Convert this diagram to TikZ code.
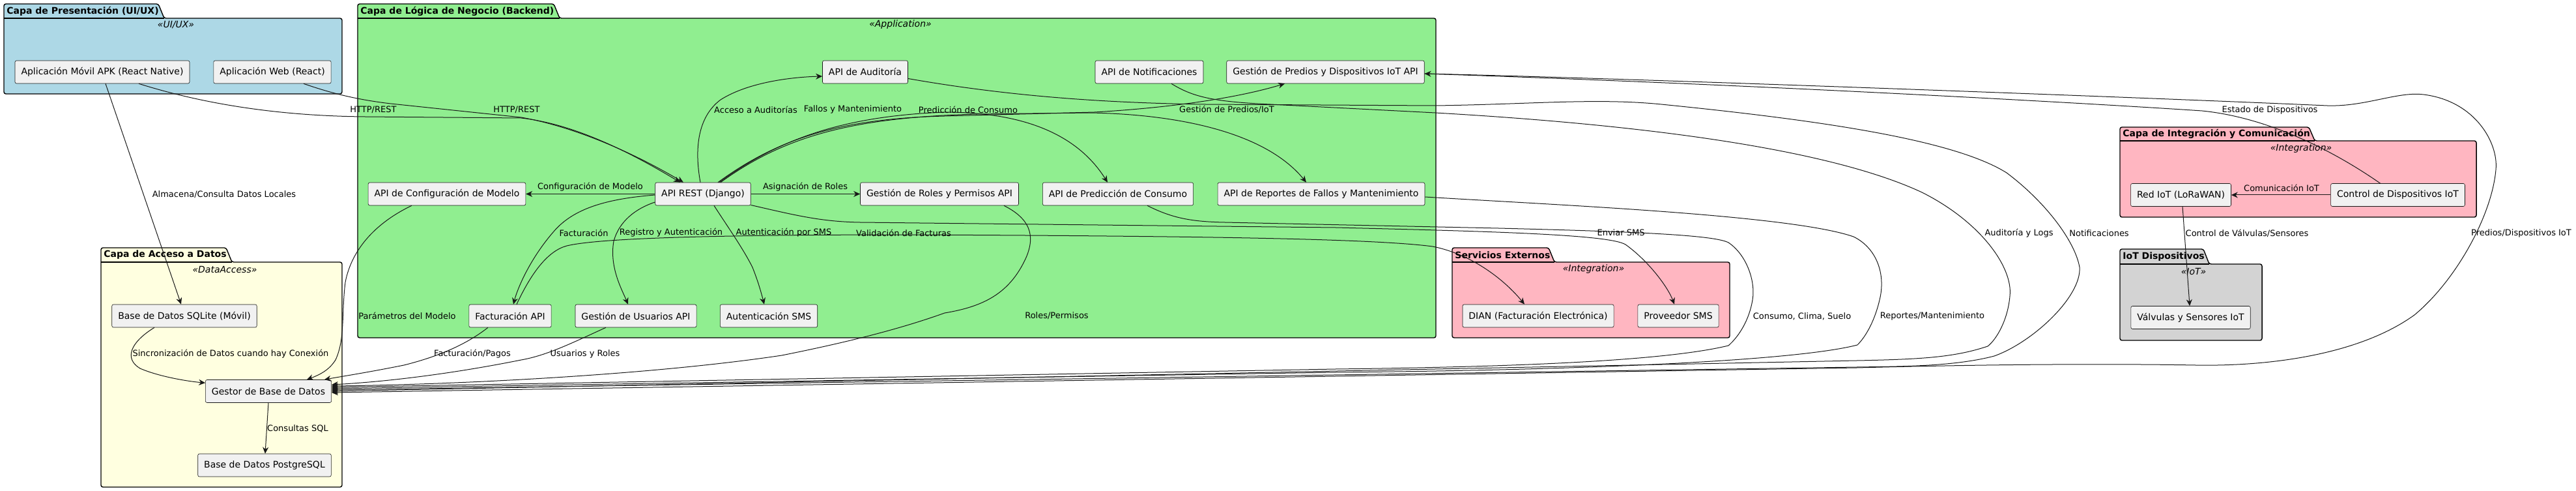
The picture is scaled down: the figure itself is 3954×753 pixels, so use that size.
\documentclass[tikz,border=0pt]{standalone}
\usepackage{fontspec}
\setmainfont{DejaVu Sans}[BoldFont={DejaVu Sans Bold},ItalicFont={DejaVu Sans Oblique}]
\usetikzlibrary{arrows.meta}

\definecolor{presfill}{HTML}{ADD8E6}
\definecolor{backfill}{HTML}{90EE90}
\definecolor{datafill}{HTML}{FFFFE0}
\definecolor{intfill}{HTML}{FFB6C1}
\definecolor{iotfill}{HTML}{D3D3D3}
\definecolor{compfill}{HTML}{F1F1F1}
\definecolor{compline}{HTML}{181818}

% package outline: left, tab right, right, tab top, body top, bottom, fill
\newcommand{\layerpkg}[7]{%
  \draw[pkgline, fill=#7] (#1,#5) -- (#1,#4) -- (#2-9,#4) -- (#2,#5) -- (#3,#5) -- (#3,#6) -- (#1,#6) -- cycle;
  \draw[pkgline] (#1,#5) -- (#2,#5);}

\tikzset{
  comp/.style={draw=compline, line width=0.3pt, fill=compfill, rounded corners=1.2pt,
    minimum height=17.5pt, inner xsep=4.75pt, inner ysep=0pt, font=\fontsize{7}{8.4}\selectfont},
  lbl/.style={inner sep=0pt, font=\fontsize{6.5}{7.8}\selectfont},
  pkgline/.style={draw=black, line width=0.7pt, rounded corners=1.5pt},
  pkgtitle/.style={anchor=west, inner sep=0pt, font=\bfseries\fontsize{7}{8.4}\selectfont},
  stereo/.style={inner sep=0pt, font=\itshape\fontsize{7}{8.4}\selectfont},
  link/.style={draw=compline, line width=0.5pt, -{Stealth[length=5pt,width=4.5pt,inset=1.6pt]}},
}

\begin{document}
\begin{tikzpicture}[x=0.5pt,y=-0.5pt]
\useasboundingbox (0,0) rectangle (3954,753);

% packages
\layerpkg{6}{252}{525}{6}{28}{144}{presfill}
\node[pkgtitle] (tpres) at (10,17) {Capa de Presentación (UI/UX)};
\node[stereo] (spres) at (270,38) {«UI/UX»};

\layerpkg{549}{859}{2204}{6}{28}{518}{backfill}
\node[pkgtitle] (tback) at (553,17) {Capa de Lógica de Negocio (Backend)};
\node[stereo] (sback) at (1382,38) {«Application»};

\layerpkg{155}{356}{525}{380}{402}{747}{datafill}
\node[pkgtitle] (tdata) at (159,391) {Capa de Acceso a Datos};
\node[stereo] (sdata) at (345,413) {«DataAccess»};

\layerpkg{2229}{2386}{2655}{380}{402}{518}{intfill}
\node[pkgtitle] (text) at (2233,391) {Servicios Externos};
\node[stereo] (sext) at (2446,413) {«Integration»};

\layerpkg{3254}{3553}{3801}{195}{216}{333}{intfill}
\node[pkgtitle] (tint) at (3258,205.5) {Capa de Integración y Comunicación};
\node[stereo] (sint) at (3532,228) {«Integration»};

\layerpkg{3254}{3391}{3472}{382}{405}{522}{iotfill}
\node[pkgtitle] (tiot) at (3258,393.5) {IoT Dispositivos};
\node[stereo] (siot) at (3367,416) {«IoT»};

% components
\node[comp] (movil) at (157,110.5) {Aplicación Móvil APK (React Native)};
\node[comp] (web) at (418,110.5) {Aplicación Web (React)};
\node[comp] (audit) at (1328,110.5) {API de Auditoría};
\node[comp] (notif) at (1764,110.5) {API de Notificaciones};
\node[comp] (predios) at (2034.5,110.5) {Gestión de Predios y Dispositivos IoT API};
\node[comp] (config) at (686,297.5) {API de Configuración de Modelo};
\node[comp] (rest) at (1079,297.5) {API REST (Django)};
\node[comp] (roles) at (1442,297.5) {Gestión de Roles y Permisos API};
\node[comp] (predic) at (1716,297.5) {API de Predicción de Consumo};
\node[comp] (reportes) at (2028,297.5) {API de Reportes de Fallos y Mantenimiento};
\node[comp] (factura) at (783,484.5) {Facturación API};
\node[comp] (usuarios) at (976,484.5) {Gestión de Usuarios API};
\node[comp] (smsauth) at (1180,484.5) {Autenticación SMS};
\node[comp] (sqlite) at (283,484.5) {Base de Datos SQLite (Móvil)};
\node[comp] (gestor) at (412,600) {Gestor de Base de Datos};
\node[comp] (postgres) at (406,713.5) {Base de Datos PostgreSQL};
\node[comp] (dian) at (2361,484.5) {DIAN (Facturación Electrónica)};
\node[comp] (smsprov) at (2576,484.5) {Proveedor SMS};
\node[comp] (red) at (3347.5,299) {Red IoT (LoRaWAN)};
\node[comp] (control) at (3680.5,299) {Control de Dispositivos IoT};
\node[comp] (valvulas) at (3362.5,487) {Válvulas y Sensores IoT};

% connectors
\draw[link] ([shift={(56,0)}]movil.south) .. controls (330,165) and (450,178) .. (560,179) -- (800,181) .. controls (880,190) and (965,232) .. ([shift={(-35,0)}]rest.north);
\draw[link] ([shift={(48,0)}]web.south) .. controls (500,140) and (540,152) .. (600,159) -- (800,180) .. controls (885,195) and (975,236) .. ([shift={(-30,0)}]rest.north);
\draw[link] ([shift={(5,0)}]movil.south) -- ([shift={(-5,0)}]sqlite.north);
\draw[link] ([shift={(-46,0)}]sqlite.south) .. controls (200,525) and (190,550) .. (215,565) .. controls (245,578) and (290,585) .. ([shift={(0,5)}]gestor.north west);
\draw[link] (gestor.south) -- ([shift={(1,0)}]postgres.north);
\draw[link] (rest.west) -- (config.east);
\draw[link] (rest.east) -- (roles.west);
\draw[link] ([shift={(-4,0)}]rest.north) .. controls (1066,230) and (1070,180) .. (1106,153) .. controls (1150,125) and (1220,118) .. ([shift={(0,6.5)}]audit.west);
\draw[link] ([shift={(25,0)}]rest.north) .. controls (1200,210) and (1300,178) .. (1450,172) .. controls (1560,172) and (1650,200) .. ([shift={(-16,0)}]predic.north);
\draw[link] ([shift={(27,0)}]rest.north) .. controls (1205,208) and (1310,180) .. (1500,175) -- (1672,173) .. controls (1800,175) and (1940,200) .. ([shift={(-23,0)}]reportes.north);
\draw[link] ([shift={(23,0)}]rest.north) .. controls (1195,212) and (1290,182) .. (1450,178) -- (1680,172) .. controls (1800,165) and (1900,150) .. ([shift={(-62.5,0)}]predios.south);
\draw[link] ([shift={(0,1.5)}]rest.west) .. controls (930,305) and (880,320) .. (850,355) .. controls (815,395) and (795,440) .. ([shift={(5,0)}]factura.north);
\draw[link] ([shift={(0,12.5)}]rest.west) .. controls (975,320) and (950,340) .. (942,370) .. controls (935,410) and (955,445) .. ([shift={(-12,0)}]usuarios.north);
\draw[link] ([shift={(17,0)}]rest.south) .. controls (1115,345) and (1140,380) .. (1155,410) .. controls (1165,435) and (1170,455) .. ([shift={(-7,0)}]smsauth.north);
\draw[link] ([shift={(10,0)}]factura.north) .. controls (815,420) and (840,385) .. (870,377) .. controls (920,365) and (1100,360) .. (1400,360) .. controls (1800,362) and (2100,365) .. (2199,378) .. controls (2260,390) and (2310,430) .. ([shift={(-21,0)}]dian.north);
\draw[link] ([shift={(0,17)}]rest.east) .. controls (1220,330) and (1260,340) .. (1320,341) -- (2050,349) .. controls (2300,355) and (2470,360) .. (2495,375) .. controls (2530,400) and (2560,440) .. ([shift={(-6,0)}]smsprov.north);
\draw[link] ([shift={(45,0)}]predic.south) .. controls (1800,335) and (1830,340) .. (1880,341) -- (2300,350) .. controls (2500,355) and (2630,360) .. (2653,372) .. controls (2680,390) and (2695,430) .. (2690,460) .. controls (2685,490) and (2670,515) .. (2653,530) .. controls (2550,555) and (2300,563) .. (2050,566) -- ([shift={(0,-6)}]gestor.east);
\draw[link] ([shift={(0,4.5)}]reportes.east) .. controls (2400,315) and (2750,330) .. (2845,363) .. controls (2880,380) and (2895,420) .. (2885,460) .. controls (2878,490) and (2865,515) .. (2851,529) .. controls (2750,555) and (2400,568) .. (2050,571) -- ([shift={(0,-4)}]gestor.east);
\draw[link] ([shift={(0,10)}]audit.east) .. controls (1550,148) and (1700,158) .. (1850,160) -- (2203,162) .. controls (2350,160) and (2450,150) .. (2550,160) .. controls (2800,185) and (3000,215) .. (3080,265) .. controls (3140,310) and (3185,370) .. (3192,410) .. controls (3195,455) and (3120,525) .. (3061,546) .. controls (3000,562) and (2920,562) .. (2850,563) -- ([shift={(0,-2)}]gestor.east);
\draw[link] ([shift={(34,0)}]notif.south) .. controls (1830,148) and (1860,156) .. (1950,160) -- (2203,173) .. controls (2500,190) and (2800,225) .. (2950,295) .. controls (3040,340) and (3090,410) .. (3085,454) .. controls (3082,490) and (3065,520) .. (3051,531) .. controls (3000,548) and (2950,551) .. (2850,553) -- (gestor.east);
\draw[link] ([shift={(0,2.5)}]predios.east) .. controls (2500,120) and (3300,150) .. (3572,162) .. controls (3630,164) and (3680,140) .. (3720,145) .. controls (3800,155) and (3835,220) .. (3831,260) .. controls (3825,330) and (3770,430) .. (3706,483) .. controls (3620,545) and (3480,562) .. (3370,560) .. controls (3200,557) and (3000,560) .. (2850,564) -- ([shift={(0,2)}]gestor.east);
\draw[link] ([shift={(-27,0)}]control.north) .. controls (3580,230) and (3480,180) .. (3380,170) .. controls (3200,158) and (2700,130) .. ([shift={(0,2.5)}]predios.east);
\draw[link] (control.west) -- (red.east);
\draw[link] ([shift={(2.5,0)}]red.south) -- ([shift={(-1.5,0)}]valvulas.north);
\draw[link] ([shift={(-54,0)}]config.south) .. controls (580,340) and (540,380) .. (530,433) .. controls (524,480) and (530,520) .. (515,552) .. controls (505,568) and (490,575) .. ([shift={(59,0)}]gestor.north);
\draw[link] ([shift={(99,0)}]roles.south) .. controls (1580,335) and (1590,360) .. (1575,395) .. controls (1550,450) and (1510,470) .. (1450,480) .. controls (1380,505) and (1300,525) .. (1200,545) .. controls (1000,575) and (700,590) .. ([shift={(0,-8)}]gestor.east);
\draw[link] ([shift={(-34,0)}]factura.south) .. controls (720,525) and (680,545) .. (620,560) .. controls (560,572) and (520,578) .. ([shift={(-11,0)}]gestor.north east);
\draw[link] ([shift={(-46,0)}]usuarios.south) .. controls (880,525) and (840,545) .. (800,552) .. controls (700,572) and (600,585) .. ([shift={(0,-10)}]gestor.east);

% connector labels
\node[lbl] (lhttpm) at (573,168) {HTTP/REST};
\node[lbl] (lhttpw) at (793,168) {HTTP/REST};
\node[lbl] (llocal) at (344,298) {Almacena/Consulta Datos Locales};
\node[lbl] (lsync) at (354,543) {Sincronización de Datos cuando hay Conexión};
\node[lbl] (lsql) at (457,657) {Consultas SQL};
\node[lbl] (lconfig) at (906,287) {Configuración de Modelo};
\node[lbl] (lroles) at (1236,287) {Asignación de Roles};
\node[lbl] (laudit) at (1160,168) {Acceso a Auditorías};
\node[lbl] (lfallos) at (1309,168) {Fallos y Mantenimiento};
\node[lbl] (lpredic) at (1486,168) {Predicción de Consumo};
\node[lbl] (lpredios) at (1883,168) {Gestión de Predios/IoT};
\node[lbl] (lfact) at (896,357) {Facturación};
\node[lbl] (lreg) at (1030,357) {Registro y Autenticación};
\node[lbl] (lsmsauth) at (1203,357) {Autenticación por SMS};
\node[lbl] (lvalid) at (1387,357) {Validación de Facturas};
\node[lbl] (lsms) at (2488,357) {Enviar SMS};
\node[lbl] (lparam) at (625,484) {Parámetros del Modelo};
\node[lbl] (lperm) at (1622,484) {Roles/Permisos};
\node[lbl] (lclima) at (2766,485) {Consumo, Clima, Suelo};
\node[lbl] (lrep) at (2966,485) {Reportes/Mantenimiento};
\node[lbl] (lpagos) at (725,543) {Facturación/Pagos};
\node[lbl] (lusers) at (898,543) {Usuarios y Roles};
\node[lbl] (llogs) at (3099,358) {Auditoría y Logs};
\node[lbl] (lnotif) at (3222,358) {Notificaciones};
\node[lbl] (lvalv) at (3449,358) {Control de Válvulas/Sensores};
\node[lbl] (liot) at (3870,358) {Predios/Dispositivos IoT};
\node[lbl] (lestado) at (3484,169) {Estado de Dispositivos};
\node[lbl] (lcomm) at (3502,288) {Comunicación IoT};
\end{tikzpicture}
\end{document}
